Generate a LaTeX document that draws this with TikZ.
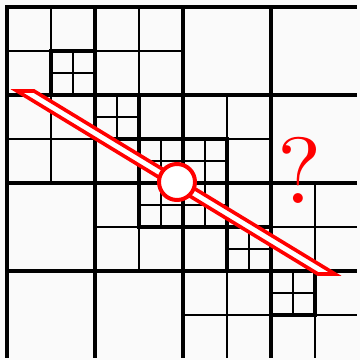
\documentclass[tikz,border=0pt]{standalone}
\usepackage{tikz}
\usetikzlibrary{positioning}
\definecolor{qtink}{HTML}{000000}
\definecolor{qtred}{HTML}{FF0000}
\definecolor{qtpaper}{HTML}{FAFAFA}
\tikzset{
  cell/.style={draw=qtink, line width=2.2pt},
  blk/.style={draw=qtink, line width=3.4pt, line cap=rect},
  rod/.style={draw=qtred, fill=white, line width=3.6pt},
  hub/.style={draw=qtred, fill=white, line width=4pt},
  qm/.style={text=qtred, inner sep=0pt},
}
\begin{document}
\begin{tikzpicture}[x=1pt,y=-1pt]
  \fill[qtpaper] (0,0) rectangle (360,360);
  \useasboundingbox (0,0) rectangle (360,360);
  \begin{scope}
    \clip (0,0) rectangle (357,357);
    \begin{scope}[shift={(7,7)}, x=22pt, y=-22pt]
      \foreach \a/\b in {0/0,4/0,0/4,4/4,8/4,4/8,8/8,12/8,8/12,12/12}
        \foreach \i in {0,2} \foreach \j in {0,2} { \draw[cell] (\a+\i,\b+\j) rectangle ++(2,2); }
      \foreach \a/\b in {2/2,4/4,6/6,8/6,6/8,8/8,10/10,12/12}
        { \foreach \i in {0,1} \foreach \j in {0,1} { \draw[cell] (\a+\i,\b+\j) rectangle ++(1,1); }
          \draw[blk] (\a,\b) rectangle ++(2,2); }
      \foreach \k in {0,4,8,12} { \draw[blk] (\k,0) -- (\k,16); \draw[blk] (0,\k) -- (16,\k); }
    \end{scope}
  \end{scope}
  \draw[rod] (17,91) -- (34,91) -- (335,274) -- (318,274) -- cycle;
  \coordinate (pivot) at (177,182);
  \draw[hub] (pivot) circle[radius=18pt];
  \node[qm] (qmark) at (300,170) {\scalebox{9.4}{?}};
\end{tikzpicture}
\end{document}
